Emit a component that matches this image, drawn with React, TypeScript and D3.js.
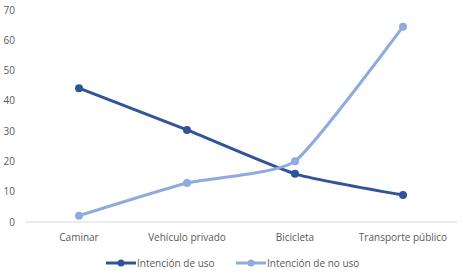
import React from "react";
import * as d3 from "d3";

const categories = ["Caminar", "Vehículo privado", "Bicicleta", "Transporte público"];
const usoValues = [44.2, 30.4, 15.9, 8.9];
const noUsoValues = [2.1, 12.9, 20.1, 64.5];
const yTicks = [0, 10, 20, 30, 40, 50, 60, 70];
const seriesNames = ["Intención de uso", "Intención de no uso"];

const W = 462;
const H = 276;
const FONT = "'Open Sans', 'Segoe UI', sans-serif";
const DARK = "#2F5597";
const LIGHT = "#8FAADC";
const TEXT = "#595959";
const FS = 10;

export default function App() {
  const x = d3.scaleBand<string>().domain(categories).range([25, 457]);
  const y = d3.scaleLinear().domain([0, 70]).range([222, 10]);
  const cx = (c: string) => (x(c) as number) + x.bandwidth() / 2;
  const line = d3
    .line<number>()
    .x((_, i) => cx(categories[i]))
    .y((v) => y(v))
    .curve(d3.curveCardinal.tension(0.5));

  const series = [
    { name: seriesNames[0], values: usoValues, color: DARK },
    { name: seriesNames[1], values: noUsoValues, color: LIGHT },
  ];
  const legendX = [106, 236];

  return (
    <svg
      width={W}
      height={H}
      style={{ position: "absolute", left: 0, top: 0, background: "#fff" }}
      fontFamily={FONT}
    >
      <line x1={25} x2={457} y1={y(0)} y2={y(0)} stroke="#d9d9d9" strokeWidth={1} />
      {yTicks.map((t) => (
        <text key={t} x={15} y={y(t) + 3.5} textAnchor="end" fontSize={FS} fill={TEXT}>
          {t}
        </text>
      ))}
      {categories.map((c) => (
        <text key={c} x={cx(c)} y={241} textAnchor="middle" fontSize={FS} fill={TEXT}>
          {c}
        </text>
      ))}
      {series.map((s) => (
        <g key={s.name}>
          <path d={line(s.values) || ""} fill="none" stroke={s.color} strokeWidth={3} strokeLinecap="round" />
          {s.values.map((v, i) => (
            <circle key={i} cx={cx(categories[i])} cy={y(v)} r={4} fill={s.color} />
          ))}
        </g>
      ))}
      {series.map((s, i) => (
        <g key={"lg" + i} transform={`translate(${legendX[i]},263)`}>
          <line x1={0} x2={30} y1={0} y2={0} stroke={s.color} strokeWidth={3} />
          <circle cx={15} cy={0} r={3.5} fill={s.color} />
          <text x={31} y={3.5} fontSize={FS} fill={TEXT}>
            {s.name}
          </text>
        </g>
      ))}
    </svg>
  );
}
